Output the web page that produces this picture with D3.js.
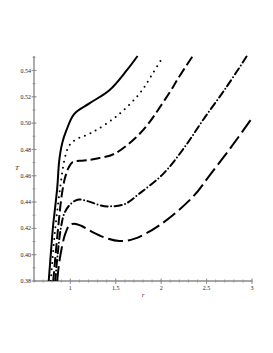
<!DOCTYPE html>
<html>
<head>
<meta charset="utf-8">
<script src="https://cdn.jsdelivr.net/npm/d3@7"></script>
<style>
  body { margin: 0; background: #fff; }
  svg { display: block; }
  .tick-label { font-family: "Liberation Serif", "DejaVu Serif", serif; font-size: 6px; fill: #222; }
  .axis-title { font-family: "Liberation Serif", "DejaVu Serif", serif; font-size: 7px; font-style: italic; fill: #222; }
</style>
</head>
<body>
<div id="chart"></div>
<script>
// Axis ticks
const rTicks = [1, 1.5, 2, 2.5, 3];
const tTicks = [0.38, 0.40, 0.42, 0.44, 0.46, 0.48, 0.50, 0.52, 0.54];

// Curves as [r, T]
const solidPts = [
    [0.762, 0.38], [0.79, 0.405], [0.81, 0.422], [0.823, 0.43], [0.856, 0.451],
    [0.878, 0.4716], [0.91, 0.4846], [0.956, 0.4944], [1.044, 0.507], [1.21, 0.515],
    [1.43, 0.525], [1.62, 0.54], [1.74, 0.551]
];
const dottedPts = [
    [0.785, 0.38], [0.82, 0.41], [0.85, 0.43], [0.89, 0.452], [0.934, 0.4717],
    [0.98, 0.482], [1.044, 0.4868], [1.246, 0.4931], [1.52, 0.5058], [1.76, 0.5223],
    [1.894, 0.5362], [2.02, 0.5505]
];
const dashPts = [
    [0.812, 0.38], [0.865, 0.42], [0.905, 0.445], [0.94, 0.458], [0.98, 0.466],
    [1.025, 0.4704], [1.15, 0.4715], [1.28, 0.4729], [1.486, 0.4767], [1.725, 0.4893],
    [1.872, 0.5007], [1.98, 0.5115], [2.1, 0.524], [2.184, 0.5337], [2.343, 0.5506]
];
const dashDotPts = [
    [0.834, 0.38], [0.86, 0.40], [0.895, 0.42], [0.934, 0.4314], [0.99, 0.4375],
    [1.08, 0.4418], [1.2, 0.4405], [1.33, 0.4375], [1.43, 0.4367], [1.6, 0.4385],
    [1.76, 0.4464], [2.03, 0.462], [2.258, 0.4817], [2.457, 0.502], [2.718, 0.5273],
    [2.94, 0.5506]
];
const longDashPts = [
    [0.856, 0.38], [0.87, 0.39], [0.897, 0.402], [0.94, 0.415], [0.99, 0.4223],
    [1.04, 0.4236], [1.12, 0.422], [1.25, 0.417], [1.4, 0.4125], [1.54, 0.4104],
    [1.7, 0.412], [1.98, 0.4223], [2.35, 0.444], [2.534, 0.4603], [2.77, 0.4817],
    [2.994, 0.5033]
];

const W = 273, H = 353;
const plot = { left: 34, right: 252, top: 56, bottom: 281 };

const svg = d3.select('#chart').append('svg')
    .attr('width', W)
    .attr('height', H);

const x = d3.scaleLinear().domain([0.6, 3]).range([plot.left, plot.right]);
const y = d3.scaleLinear().domain([0.38, 0.551]).range([plot.bottom, plot.top]);

svg.append('clipPath').attr('id', 'plot')
    .append('rect')
    .attr('x', plot.left).attr('y', plot.top - 1)
    .attr('width', plot.right - plot.left + 2).attr('height', plot.bottom - plot.top + 1);

// Axes (Maple style: grey line, ticks crossing it)
const axisColor = '#8a8a8a';

const yAxis = svg.append('g').attr('transform', `translate(${plot.left},0)`);
yAxis.append('line')
    .attr('y1', plot.top).attr('y2', plot.bottom)
    .attr('stroke', axisColor).attr('stroke-width', 1.4);
const yMinor = d3.range(0.38, 0.5505, 0.01);
yAxis.selectAll('.minor').data(yMinor).enter().append('line')
    .attr('x1', -1.5).attr('x2', 1.5)
    .attr('y1', d => y(d)).attr('y2', d => y(d))
    .attr('stroke', axisColor).attr('stroke-width', 0.8);
yAxis.selectAll('.major').data(tTicks).enter().append('line')
    .attr('x1', -2.5).attr('x2', 2.5)
    .attr('y1', d => y(d)).attr('y2', d => y(d))
    .attr('stroke', axisColor).attr('stroke-width', 0.9);
yAxis.selectAll('text').data(tTicks).enter().append('text')
    .attr('class', 'tick-label')
    .attr('x', -3)
    .attr('y', d => y(d))
    .attr('dy', '0.35em')
    .attr('text-anchor', 'end')
    .text(d => d3.format('.2f')(d));

const xAxis = svg.append('g').attr('transform', `translate(0,${plot.bottom})`);
xAxis.append('line')
    .attr('x1', plot.left).attr('x2', plot.right)
    .attr('stroke', axisColor).attr('stroke-width', 1.4);
const xMinor = d3.range(0.6, 3.001, 0.1);
xAxis.selectAll('.minor').data(xMinor).enter().append('line')
    .attr('x1', d => x(d)).attr('x2', d => x(d))
    .attr('y1', -1.5).attr('y2', 1.5)
    .attr('stroke', axisColor).attr('stroke-width', 0.8);
xAxis.selectAll('.major').data(rTicks).enter().append('line')
    .attr('x1', d => x(d)).attr('x2', d => x(d))
    .attr('y1', -2.5).attr('y2', 3)
    .attr('stroke', axisColor).attr('stroke-width', 0.9);
xAxis.selectAll('text').data(rTicks).enter().append('text')
    .attr('class', 'tick-label')
    .attr('x', d => x(d))
    .attr('y', 9)
    .attr('text-anchor', 'middle')
    .text(d => d);

// Axis titles
svg.append('text').attr('class', 'axis-title')
    .attr('x', 143).attr('y', 297)
    .attr('text-anchor', 'middle')
    .text('r');
svg.append('text').attr('class', 'axis-title')
    .attr('x', 17).attr('y', 170)
    .attr('text-anchor', 'middle')
    .text('T');

// Curves
const line = d3.line()
    .x(d => x(d[0]))
    .y(d => y(d[1]))
    .curve(d3.curveCatmullRom.alpha(0.5));

const series = [
    { pts: solidPts, dash: null, cap: 'butt' },
    { pts: dottedPts, dash: '0,6', cap: 'round' },
    { pts: dashPts, dash: '10,4', cap: 'butt' },
    { pts: dashDotPts, dash: '7,3.5,0,3.5', cap: 'round' },
    { pts: longDashPts, dash: '15,5', cap: 'butt' }
];

svg.append('g').attr('clip-path', 'url(#plot)')
    .selectAll('path').data(series).enter().append('path')
    .attr('d', d => line(d.pts))
    .attr('fill', 'none')
    .attr('stroke', '#000')
    .attr('stroke-width', 2)
    .attr('stroke-linecap', d => d.cap)
    .attr('stroke-dasharray', d => d.dash);
</script>
</body>
</html>
